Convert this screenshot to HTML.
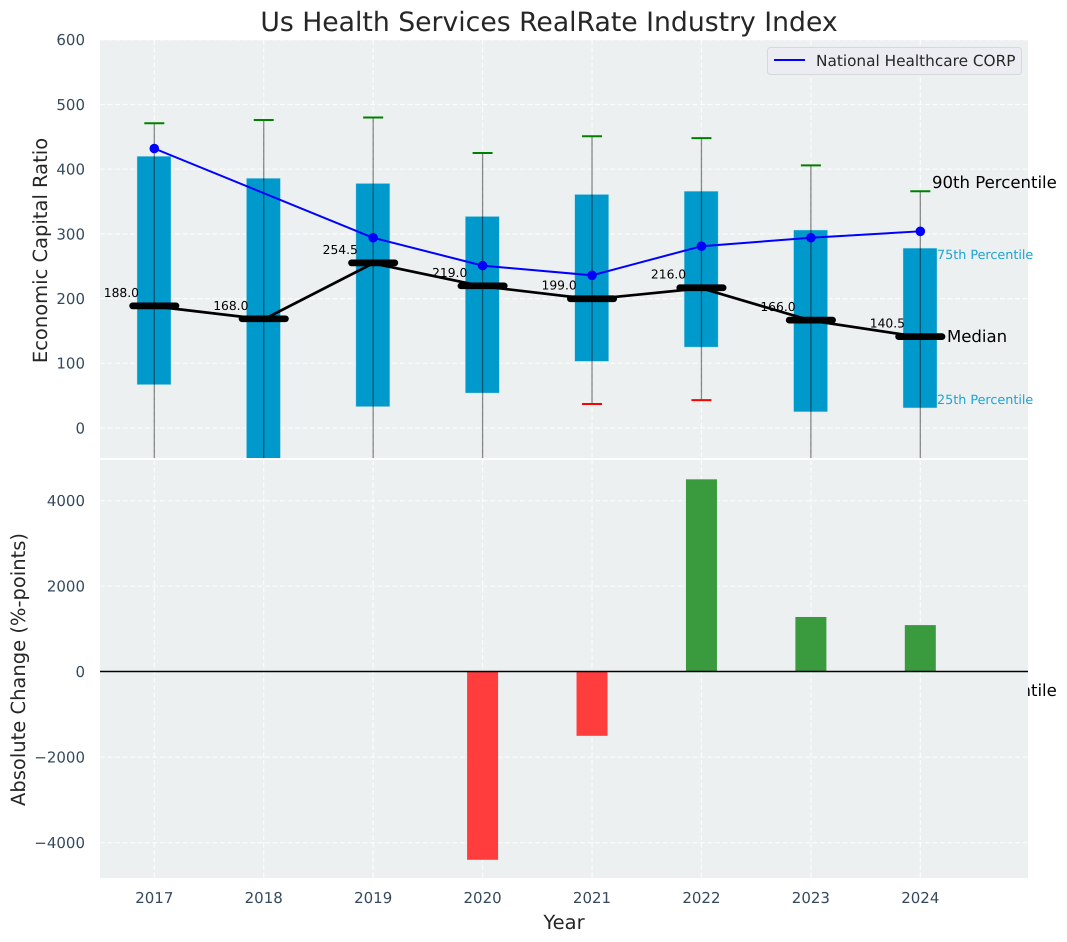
<!DOCTYPE html>
<html>
<head>
<meta charset="utf-8">
<style>
html,body{margin:0;padding:0;background:#fff;}
svg{display:block;}
text{font-family:"DejaVu Sans","Liberation Sans",sans-serif;text-rendering:geometricPrecision;}
.tick{font-size:15px;fill:#34495e;}
.axis{font-size:19.5px;fill:#262626;}
</style>
</head>
<body>
<svg id="chart" width="1067" height="942" viewBox="0 0 1067 942" xmlns="http://www.w3.org/2000/svg">
  <defs>
    <clipPath id="top-clip"><rect x="100" y="40" width="928" height="418"/></clipPath>
    <clipPath id="bottom-clip"><rect x="100" y="460" width="928" height="418"/></clipPath>
  </defs>
  <text x="549" y="31" text-anchor="middle" style="font-size:26.67px;fill:#262626">Us Health Services RealRate Industry Index</text>
  <rect x="100" y="40" width="928" height="418" fill="#ecf0f1"/>
  <g id="top-grid"></g>
  <g id="top-marks" clip-path="url(#top-clip)"></g>
  <g id="median-labels"></g>
  <text x="932" y="188" style="font-size:16.55px;fill:#000">90th Percentile</text>
  <text x="937" y="259" style="font-size:12.75px;fill:#1fa3d1">75th Percentile</text>
  <text x="947" y="342" style="font-size:16.55px;fill:#000">Median</text>
  <text x="937" y="404" style="font-size:12.75px;fill:#1fa3d1">25th Percentile</text>
  <text x="932" y="696" style="font-size:16.55px;fill:#000">10th Percentile</text>
  <rect x="100" y="460" width="928" height="418" fill="#ecf0f1"/>
  <g id="bottom-grid"></g>
  <g id="bottom-marks" clip-path="url(#bottom-clip)"></g>
  <g id="tick-labels"></g>
  <g>
    <rect x="767.5" y="47.5" width="254" height="27" rx="3" fill="#ecedf2" stroke="#d6d8dc" stroke-width="1"/>
    <line x1="774" y1="60" x2="805" y2="60" stroke="#0000ff" stroke-width="2"/>
    <text x="816" y="66" style="font-size:15.3px;fill:#262626">National Healthcare CORP</text>
  </g>
  <text class="axis" x="564" y="929" text-anchor="middle">Year</text>
  <text class="axis" transform="translate(47,250.5) rotate(-90)" text-anchor="middle">Economic Capital Ratio</text>
  <text class="axis" transform="translate(25,669.5) rotate(-90)" text-anchor="middle">Absolute Change (%-points)</text>
</svg>
<script>
const years = [2017, 2018, 2019, 2020, 2021, 2022, 2023, 2024];
const p90 = [471, 476, 480, 425, 451, 448, 406, 366];
const p75 = [420, 386, 378, 327, 361, 366, 306, 278];
const medians = [188, 168, 254.5, 219, 199, 216, 166, 140.5];
const p25 = [67, -60, 33, 54, 103, 125, 25, 31];
const p10 = [-100, -150, -110, -90, 37, 43, -80, -90];
const companyValues = [432, null, 294, 251, 236, 281, 294, 304];
const changes = [null, null, null, -4400, -1500, 4500, 1280, 1090];
const topTicks = [0, 100, 200, 300, 400, 500, 600];
const bottomTicks = [-4000, -2000, 0, 2000, 4000];

const NS = 'http://www.w3.org/2000/svg';
function xScale(v) { return 154.3 + (v - 2017) * 109.43; }
function yTop(v) { return 428 - v * 0.647; }
function yBottom(v) { return 671.7 - v * 0.04275; }
function make(parent, tag, attrs) {
  const el = document.createElementNS(NS, tag);
  for (const k in attrs) el.setAttribute(k, attrs[k]);
  parent.appendChild(el);
  return el;
}
const topGrid = document.getElementById('top-grid');
const bottomGrid = document.getElementById('bottom-grid');
const topMarks = document.getElementById('top-marks');
const bottomMarks = document.getElementById('bottom-marks');
const tickLabels = document.getElementById('tick-labels');
const medianLabels = document.getElementById('median-labels');
const gridStyle = { stroke: '#ffffff', 'stroke-width': 1.2, 'stroke-dasharray': '5 2.5', 'stroke-opacity': 0.8 };

topTicks.forEach(function (t) {
  const y = yTop(t);
  const g = make(topGrid, 'line', Object.assign({ x1: 100, x2: 1028, y1: y, y2: y }, gridStyle));
  
  
  const l = make(tickLabels, 'text', { x: 85, y: y + 5.4, 'text-anchor': 'end', class: 'tick' });
  l.textContent = String(t);
  
  
});
bottomTicks.forEach(function (t) {
  const y = yBottom(t);
  const g = make(bottomGrid, 'line', Object.assign({ x1: 100, x2: 1028, y1: y, y2: y }, gridStyle));
  
  
  const l = make(tickLabels, 'text', { x: 85, y: y + 5.4, 'text-anchor': 'end', class: 'tick' });
  l.textContent = String(t).replace('-', '\u2212');
  
  
});
years.forEach(function (yr) {
  const x = xScale(yr);
  const g1 = make(topGrid, 'line', Object.assign({ x1: x, x2: x, y1: 40, y2: 458 }, gridStyle));
  
  
  const g2 = make(bottomGrid, 'line', Object.assign({ x1: x, x2: x, y1: 460, y2: 878 }, gridStyle));
  
  
  const l = make(tickLabels, 'text', { x: x, y: 903, 'text-anchor': 'middle', class: 'tick' });
  l.textContent = String(yr);
  
  
});

years.forEach(function (yr, i) {
  const x = xScale(yr);
  const top = yTop(p75[i]);
  const box = make(topMarks, 'rect', { x: x - 17.3, y: top, width: 34, height: yTop(p25[i]) - top, fill: '#0099cc', stroke: '#bfe3ef', 'stroke-width': 0.6, 'stroke-opacity': 0.7 });
  
  
});
years.forEach(function (yr, i) {
  const x = xScale(yr);
  const w = make(topMarks, 'line', { x1: x, x2: x, y1: yTop(p90[i]), y2: yTop(p10[i]), stroke: '#000', 'stroke-opacity': 0.45, 'stroke-width': 1.3 });
  
  
  const hi = make(topMarks, 'line', { x1: x - 10, x2: x + 10, y1: yTop(p90[i]), y2: yTop(p90[i]), stroke: '#008000', 'stroke-width': 2 });
  
  
  const lo = make(topMarks, 'line', { x1: x - 10, x2: x + 10, y1: yTop(p10[i]), y2: yTop(p10[i]), stroke: '#ff0000', 'stroke-width': 2 });
  
  
});

const medianPts = years.map(function (yr, i) { return xScale(yr) + ',' + yTop(medians[i]); }).join(' ');
const medianLine = make(topMarks, 'polyline', { points: medianPts, fill: 'none', stroke: '#000', 'stroke-width': 2.7 });


years.forEach(function (yr, i) {
  const x = xScale(yr);
  const y = yTop(medians[i]) - 0.5;
  const m = make(topMarks, 'line', { x1: x - 21.7, x2: x + 21.7, y1: y, y2: y, stroke: '#000', 'stroke-width': 6.7, 'stroke-linecap': 'round' });
  
  
  const t = make(medianLabels, 'text', { x: x - 15.3, y: y - 9, 'text-anchor': 'end', style: 'font-size:12.3px;fill:#000' });
  t.textContent = medians[i].toFixed(1);
  
  
});

const companyPts = [];
years.forEach(function (yr, i) {
  if (companyValues[i] !== null) companyPts.push(xScale(yr) + ',' + yTop(companyValues[i]));
});
const companyLine = make(topMarks, 'polyline', { points: companyPts.join(' '), fill: 'none', stroke: '#0000ff', 'stroke-width': 2 });


years.forEach(function (yr, i) {
  if (companyValues[i] === null) return;
  const c = make(topMarks, 'circle', { cx: xScale(yr), cy: yTop(companyValues[i]), r: 4.8, fill: '#0000ff' });
  
  
});

years.forEach(function (yr, i) {
  const v = changes[i];
  if (v === null) return;
  const y0 = yBottom(0);
  const y1 = yBottom(v);
  const b = make(bottomMarks, 'rect', { x: xScale(yr) - 15.5, y: Math.min(y0, y1), width: 31, height: Math.abs(y1 - y0), fill: v >= 0 ? '#3a9a3e' : '#ff3d3d' });
  
  
});
const zero = make(bottomMarks, 'line', { x1: 100, x2: 1028, y1: 671.5, y2: 671.5, stroke: '#000', 'stroke-width': 1.4 });


</script>
</body>
</html>
